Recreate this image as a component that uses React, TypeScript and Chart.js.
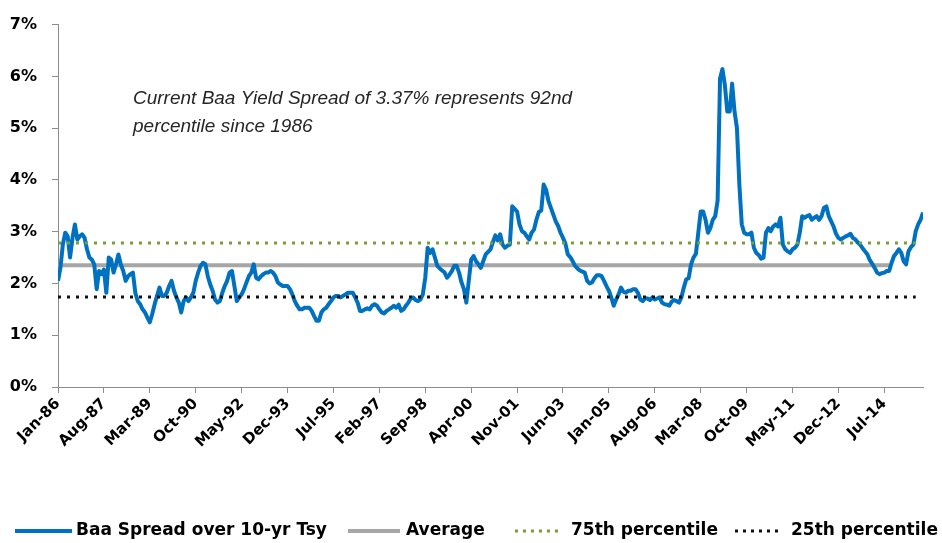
import React, { useEffect, useRef } from "react";
import { Chart, registerables } from "chart.js";

Chart.register(...registerables);

// ---- Data ----
const tickLabels = [
  "Jan-86", "Aug-87", "Mar-89", "Oct-90", "May-92", "Dec-93", "Jul-95", "Feb-97", "Sep-98", "Apr-00",
  "Nov-01", "Jun-03", "Jan-05", "Aug-06", "Mar-08", "Oct-09", "May-11", "Dec-12", "Jul-14",
];
const tickStepMonths = 19;

// Monthly Baa spread over 10-yr Treasury (%), Jan-1986 onwards
const spread1986to1995 = [
  2.05, 2.3, 2.75, 2.98, 2.91, 2.5, 2.88, 3.14, 2.85, 2.91, 2.95, 2.88,
  2.66, 2.5, 2.46, 2.37, 1.89, 2.24, 2.18, 2.27, 1.82, 2.5, 2.46, 2.21,
  2.37, 2.56, 2.37, 2.24, 2.05, 2.14, 2.18, 2.21, 1.82, 1.66, 1.6, 1.5,
  1.44, 1.34, 1.25, 1.41, 1.6, 1.76, 1.92, 1.76, 1.76, 1.82, 1.95, 2.05,
  1.86, 1.73, 1.63, 1.44, 1.66, 1.73, 1.66, 1.73, 1.82, 2.05, 2.21, 2.34,
  2.4, 2.37, 2.14, 1.98, 1.86, 1.69, 1.63, 1.66, 1.82, 1.95, 2.05, 2.21,
  2.24, 1.95, 1.66, 1.73, 1.79, 1.89, 2.02, 2.14, 2.21, 2.37, 2.11, 2.08,
  2.14, 2.18, 2.21, 2.21, 2.24, 2.21, 2.14, 2.02, 1.98, 1.95, 1.95, 1.95,
  1.89, 1.79, 1.66, 1.57, 1.5, 1.5, 1.53, 1.53, 1.53, 1.47, 1.37, 1.28,
  1.28, 1.44, 1.5, 1.53, 1.6, 1.66, 1.73, 1.76, 1.76, 1.73, 1.76, 1.79,
];
const spread1996to2005 = [
  1.82, 1.82, 1.82, 1.73, 1.63, 1.47, 1.47, 1.5, 1.52, 1.5, 1.57, 1.6,
  1.57, 1.5, 1.44, 1.42, 1.47, 1.5, 1.53, 1.57, 1.53, 1.59, 1.47, 1.5,
  1.57, 1.63, 1.71, 1.73, 1.68, 1.66, 1.69, 1.79, 2.11, 2.69, 2.59, 2.66,
  2.5, 2.34, 2.29, 2.25, 2.21, 2.11, 2.17, 2.24, 2.34, 2.34, 2.21, 2.02,
  1.89, 1.63, 2.05, 2.46, 2.53, 2.43, 2.37, 2.3, 2.43, 2.56, 2.61, 2.66,
  2.8, 2.93, 2.83, 2.95, 2.75, 2.69, 2.73, 2.75, 3.49, 3.44, 3.39, 3.14,
  3.01, 2.98, 2.91, 2.85, 2.98, 3.04, 3.23, 3.38, 3.41, 3.91, 3.81, 3.59,
  3.46, 3.33, 3.2, 3.11, 2.98, 2.88, 2.77, 2.56, 2.51, 2.43, 2.34, 2.29,
  2.25, 2.23, 2.21, 2.05, 2.0, 2.02, 2.1, 2.16, 2.16, 2.14, 2.05, 1.95,
  1.86, 1.73, 1.57, 1.69, 1.79, 1.92, 1.84, 1.82, 1.86, 1.86, 1.89, 1.89,
];
const spread2006to2015 = [
  1.82, 1.69, 1.66, 1.71, 1.71, 1.68, 1.73, 1.69, 1.71, 1.73, 1.63, 1.6,
  1.59, 1.57, 1.65, 1.68, 1.66, 1.63, 1.73, 1.92, 2.08, 2.1, 2.37, 2.5,
  2.57, 2.98, 3.39, 3.39, 3.23, 2.98, 3.07, 3.23, 3.3, 3.6, 5.96, 6.14,
  5.83, 5.32, 5.32, 5.86, 5.32, 5.0, 3.91, 3.14, 2.98, 2.95, 2.95, 2.98,
  2.69, 2.59, 2.55, 2.48, 2.5, 2.98, 3.07, 3.01, 3.1, 3.14, 3.1, 3.27,
  2.75, 2.66, 2.62, 2.59, 2.66, 2.69, 2.75, 2.98, 3.3, 3.27, 3.3, 3.32,
  3.23, 3.27, 3.3, 3.23, 3.3, 3.46, 3.49, 3.3, 3.2, 3.1, 2.96, 2.88,
  2.85, 2.88, 2.91, 2.93, 2.96, 2.88, 2.85, 2.79, 2.75, 2.68, 2.62, 2.56,
  2.45, 2.38, 2.3, 2.21, 2.18, 2.2, 2.21, 2.24, 2.24, 2.4, 2.53, 2.59,
  2.66, 2.59, 2.43, 2.37, 2.62, 2.7, 2.75, 3.01, 3.14, 3.23, 3.37,
];

const averageSpread = 2.35;
const percentile75 = 2.78;
const percentile25 = 1.74;
const averageLastMonth = 345;
const percentileLastMonth = 355;

const yTicks = [0, 1, 2, 3, 4, 5, 6, 7];

const annotationLines = [
  "Current Baa Yield Spread of 3.37% represents 92nd",
  "percentile since 1986",
];

const legendNames = [
  "Baa Spread over 10-yr Tsy",
  "Average",
  "75th percentile",
  "25th percentile",
];

// ---- Styles ----
const BLUE = "#0070C0";
const GRAY = "#A6A6A6";
const GREEN = "#77A03A";
const BLACK = "#111111";
const AXIS = "#8C8C8C";
const FONT = "'DejaVu Sans', sans-serif";

export default function App() {
  const canvasRef = useRef<HTMLCanvasElement | null>(null);

  useEffect(() => {
    const canvas = canvasRef.current;
    if (!canvas) return;

    const series = [...spread1986to1995, ...spread1996to2005, ...spread2006to2015];
    const spreadPoints = series.map((v, i) => ({ x: i, y: v }));
    const lastIndex = series.length - 1;

    const legendLayout = [
      { name: legendNames[0], color: BLUE, width: 4, dash: [] as number[], x0: 15, x1: 72, tx: 76 },
      { name: legendNames[1], color: GRAY, width: 4, dash: [] as number[], x0: 348, x1: 400, tx: 406 },
      { name: legendNames[2], color: GREEN, width: 3, dash: [3, 5], x0: 515, x1: 562, tx: 571 },
      { name: legendNames[3], color: BLACK, width: 3, dash: [3, 5], x0: 735, x1: 782, tx: 791 },
    ];

    const overlayPlugin = {
      id: "overlay",
      afterDraw(chart: any) {
        const ctx = chart.ctx as CanvasRenderingContext2D;
        ctx.save();
        // annotation
        ctx.fillStyle = "#262626";
        ctx.font = "italic 19px 'Liberation Sans', sans-serif";
        ctx.textBaseline = "alphabetic";
        ctx.textAlign = "left";
        ctx.fillText(annotationLines[0], 133, 104);
        ctx.fillText(annotationLines[1], 133, 132);
        // legend
        const ly = 531;
        ctx.font = `bold 17px ${FONT}`;
        ctx.textBaseline = "middle";
        legendLayout.forEach((it) => {
          ctx.beginPath();
          ctx.strokeStyle = it.color;
          ctx.lineWidth = it.width;
          ctx.lineCap = "butt";
          ctx.setLineDash(it.dash);
          ctx.moveTo(it.x0, ly);
          ctx.lineTo(it.x1, ly);
          ctx.stroke();
          ctx.setLineDash([]);
          ctx.fillStyle = "#000";
          ctx.fillText(it.name, it.tx, ly);
        });
        ctx.restore();
      },
    };

    const chart = new Chart(canvas, {
      type: "line",
      data: {
        datasets: [
          {
            label: legendNames[2],
            data: [{ x: 0, y: percentile75 }, { x: percentileLastMonth, y: percentile75 }],
            borderColor: GREEN,
            borderWidth: 3,
            borderDash: [3, 6],
            pointRadius: 0,
            order: 0,
          },
          {
            label: legendNames[3],
            data: [{ x: 0, y: percentile25 }, { x: percentileLastMonth, y: percentile25 }],
            borderColor: BLACK,
            borderWidth: 3,
            borderDash: [3, 6],
            pointRadius: 0,
            order: 1,
          },
          {
            label: legendNames[0],
            data: spreadPoints,
            borderColor: BLUE,
            borderWidth: 4,
            pointRadius: 0,
            tension: 0,
            borderJoinStyle: "round",
            order: 2,
          },
          {
            label: legendNames[1],
            data: [{ x: 0, y: averageSpread }, { x: averageLastMonth, y: averageSpread }],
            borderColor: GRAY,
            borderWidth: 4,
            pointRadius: 0,
            order: 3,
          },
        ],
      },
      options: {
        responsive: false,
        animation: false,
        events: [],
        layout: { padding: { left: 0, top: 20, right: 19, bottom: 0 } },
        plugins: {
          legend: { display: false },
          tooltip: { enabled: false },
          title: { display: false },
        },
        scales: {
          x: {
            type: "linear",
            min: 0,
            max: lastIndex,
            afterBuildTicks: (axis: any) => {
              axis.ticks = tickLabels.map((_, i) => ({ value: i * tickStepMonths }));
            },
            afterFit: (s: any) => {
              s.height = 156;
            },
            ticks: {
              autoSkip: false,
              minRotation: 45,
              maxRotation: 45,
              padding: 2,
              color: "#000",
              font: { family: FONT, size: 15, weight: "bold" },
              callback: (v: any) => tickLabels[Math.round(Number(v) / tickStepMonths)] ?? "",
            },
            grid: { drawOnChartArea: false, drawTicks: true, tickLength: 6, color: AXIS },
            border: { color: AXIS, width: 1 },
          },
          y: {
            min: 0,
            max: 7,
            afterBuildTicks: (axis: any) => {
              axis.ticks = yTicks.map((v) => ({ value: v }));
            },
            afterFit: (s: any) => {
              s.width = 58;
            },
            ticks: {
              padding: 15,
              color: "#000",
              font: { family: FONT, size: 16, weight: "bold" },
              callback: (v: any) => `${v}%`,
            },
            grid: { drawOnChartArea: false, drawTicks: true, tickLength: 6, color: AXIS },
            border: { color: AXIS, width: 1 },
          },
        },
      },
      plugins: [overlayPlugin],
    } as any);

    return () => {
      chart.destroy();
    };
  }, []);

  return (
    <div style={{ position: "absolute", left: 0, top: 0, width: 942, height: 543, background: "#fff" }}>
      <canvas ref={canvasRef} width={942} height={543} style={{ display: "block" }} />
    </div>
  );
}
